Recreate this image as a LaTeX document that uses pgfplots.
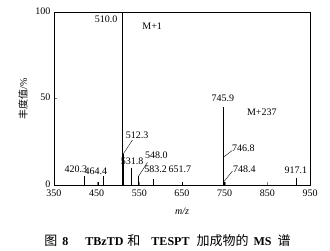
\documentclass[border=0pt]{standalone}
\usepackage{pgfplots}
\pgfplotsset{compat=1.18}
\usepackage{fontspec}
\setmainfont{Liberation Serif}
\newfontfamily\cjk{Noto Sans CJK SC}
\begin{document}
\begin{tikzpicture}
\useasboundingbox (-54pt,-66pt) rectangle (276pt,185pt);
\begin{axis}[
  at={(0,0)}, anchor=south west, scale only axis,
  width=256pt, height=173pt,
  xmin=350, xmax=950, ymin=0, ymax=100,
  xtick={350,450,...,950}, ytick={0,50,100},
  tick pos=left, tick align=inside, major tick length=3pt,
  axis line style={line width=0.7pt},
  /pgf/number format/assume math mode=true,
  ticklabel style={font=\fontsize{10}{10}\selectfont},
  xticklabel style={yshift=-1.5pt},
  yticklabel style={yshift=1pt},
  xlabel={\textit{m/z}},
  ylabel={{\cjk 丰度值}/\%},
  xlabel style={at={(axis description cs:0.5,0)}, yshift=-26pt, anchor=center, font=\fontsize{10}{10}\selectfont},
  ylabel style={at={(axis description cs:0,0.5)}, yshift=31pt, anchor=center, font=\fontsize{10}{10}\selectfont},
  clip=false,
  every node/.style={font=\fontsize{10}{10}\selectfont, inner sep=0.5pt},
]
\addplot[ycomb, black, line width=0.6pt, mark=none] coordinates {
 (420.3,5) (455,2) (464.4,5) (512.3,18) (531.8,10) (548.0,5)
 (583.2,3.5) (651.7,1.5) (745.9,45) (746.8,16) (748.4,2) (917.1,4)
};
\addplot[ycomb, black, line width=1.1pt, mark=none] coordinates {(510.0,100)};
\node[anchor=east] at (axis cs:507,96) {510.0};
\node at (axis cs:580,92) {M+1};
\node[anchor=south] at (axis cs:745.9,46) {745.9};
\node at (axis cs:837,42) {M+237};
\node at (axis cs:545,29) {512.3};
\draw[line width=0.4pt] (axis cs:534,26) -- (axis cs:512.3,18);
\node at (axis cs:533,14) {531.8};
\node at (axis cs:590,17) {548.0};
\draw[line width=0.4pt] (axis cs:569,13) -- (axis cs:548,5);
\node at (axis cs:588,9) {583.2};
\node at (axis cs:645,9) {651.7};
\node at (axis cs:401,9) {420.3};
\node at (axis cs:448,8) {464.4};
\node at (axis cs:794,21) {746.8};
\draw[line width=0.4pt] (axis cs:768,20) -- (axis cs:746.8,16);
\node at (axis cs:796,9) {748.4};
\draw[line width=0.4pt] (axis cs:768,8) -- (axis cs:748.4,2);
\node[anchor=south] at (axis cs:917.1,4.5) {917.1};
\end{axis}
\node[font=\fontsize{12}{12}\selectfont, inner sep=0pt] at (113.5pt,-56pt) {{\cjk\fontsize{13}{13}\selectfont 图}\hspace{5pt}\textbf{8}\hspace{17pt}\textbf{TBzTD}\hspace{4pt}{\cjk\fontsize{13}{13}\selectfont 和}\hspace{11pt}\textbf{TESPT}\hspace{7pt}{\cjk\fontsize{13}{13}\selectfont 加成物的}\hspace{5pt}\textbf{MS}\hspace{6pt}{\cjk\fontsize{13}{13}\selectfont 谱}};
\end{tikzpicture}
\end{document}
